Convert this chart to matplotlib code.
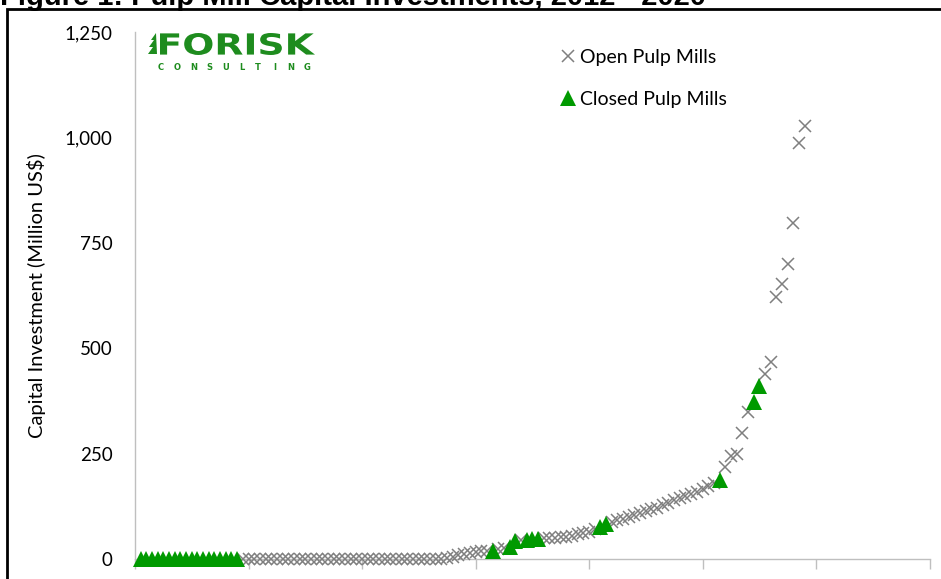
import numpy as np
import matplotlib
matplotlib.use("Agg")
import matplotlib.pyplot as plt
from matplotlib.patches import Rectangle, PathPatch, Polygon
from matplotlib.textpath import TextPath
from matplotlib.font_manager import FontProperties
from matplotlib.transforms import Affine2D
from matplotlib.ticker import FuncFormatter

# capital investment per mill, sorted low -> high (Million US$)
capex = [0, 0, 0, 0, 0, 0, 0, 0, 0, 0, 0, 0, 0, 0, 0, 0, 0, 0,
         0, 0, 0, 0, 0, 0, 0, 0, 0, 0, 0, 0, 0, 0, 0, 0, 0, 0,
         0, 0, 0, 0, 0, 0, 0, 0, 0, 0, 0, 0, 0, 0, 0, 0, 0, 0,
         2, 5, 9, 12, 15, 17, 18, 19, 20, 24, 26, 28, 42, 44, 46, 47,
         48, 49, 50, 50, 51, 52, 55, 59, 62, 65, 70, 76, 84, 88, 92, 96,
         100, 104, 108, 113, 118, 122, 128, 134, 139, 144, 150, 155, 160, 165, 172, 180,
         188, 219, 244, 250, 298, 348, 373, 411, 438, 468, 621, 652, 700, 798, 987, 1028]
# rank positions of the closed mills, all others are open
closed_rank = [1, 2, 3, 4, 5, 6, 7, 8, 9, 10, 11, 12, 13, 14, 15, 16, 17, 18,
               63, 66, 67, 69, 70, 71, 82, 83, 103, 109, 110]

capex = np.array(capex, dtype=float)
rank = np.arange(1, len(capex) + 1)
is_closed = np.isin(rank, closed_rank)

legend_labels = ["Open Pulp Mills", "Closed Pulp Mills"]
title = "Figure 1: Pulp Mill Capital Investments, 2012 - 2020"
ylab = "Capital Investment (Million US$)"

W, H = 941, 579
fig = plt.figure(figsize=(W / 100, H / 100), dpi=100)
plt.rcParams['font.family'] = ['Lato', 'DejaVu Sans']

def px(x, y):
    return x / W, 1 - y / H

l, t = px(135, 32)
r, b = px(929.5, 559)
ax = fig.add_axes([l, b, r - l, t - b])

ax.plot(rank[~is_closed], capex[~is_closed], ls="none", marker="x", ms=8.3,
        mew=1.1, color="#7f7f7f", clip_on=False, zorder=3, label=legend_labels[0])
ax.plot(rank[is_closed], capex[is_closed], ls="none", marker="^", ms=11,
        mew=0, color="#009a00", clip_on=False, zorder=4, label=legend_labels[1])

ax.set_xlim(0, 140)
ax.set_ylim(0, 1250)
ax.set_xticks(np.arange(0, 141, 20))
ax.set_xticklabels([])
ax.set_yticks(np.arange(0, 1251, 250))
ax.yaxis.set_major_formatter(FuncFormatter(lambda v, p: f"{int(v):,}"))
ax.tick_params(axis="y", length=0, pad=16, labelsize=13.5, colors="black")
ax.tick_params(axis="x", length=7, width=1, color="#bfbfbf", direction="out")
for s in ["top", "right"]:
    ax.spines[s].set_visible(False)
for s in ["left", "bottom"]:
    ax.spines[s].set_color("#bfbfbf")
    ax.spines[s].set_linewidth(1)
ax.set_ylabel(ylab, fontsize=14.5)
ax.yaxis.set_label_coords(-0.125 + 10 / 794.5, 0.5)

leg = ax.legend(loc="upper left", bbox_to_anchor=px(562, 49), bbox_transform=fig.transFigure,
                frameon=False, fontsize=14, handlelength=0.6, handletextpad=0.3,
                labelspacing=1.3, borderpad=0, borderaxespad=0)

# chart border and cut-off title
fig.patches.append(Rectangle(px(7, 600), 2, (600 - 9) / H, transform=fig.transFigure,
                             fill=False, ec="black", lw=2))
fig.text(*px(0, 5), title, fontsize=21, fontweight="bold",
         family="Liberation Sans", va="baseline", ha="left")

# FORISK logo
green = "#1e8c1e"
tp = TextPath((0, 0), "FORISK", size=1, prop=FontProperties(family="DejaVu Sans", weight="bold"))
ext = tp.get_extents()
x0, y0 = px(160, 55)
x1, y1 = px(315, 33)
tr = Affine2D().translate(-ext.x0, -ext.y0).scale((x1 - x0) / ext.width, (y1 - y0) / ext.height).translate(x0, y0)
fig.patches.append(PathPatch(tr.transform_path(tp), transform=fig.transFigure, fc=green, ec="none"))
# small tree mark left of the F
tree = [px(156, 33), px(151, 40), px(154, 40), px(149, 47), px(153, 47), px(148, 54), px(157, 54)]
fig.patches.append(Polygon(tree, closed=True, transform=fig.transFigure, fc=green, ec="none"))
for i, ch in enumerate("CONSULTING"):
    fig.text(*px(161 + i * 16.2, 67), ch, fontsize=6, fontweight="bold", color=green,
             ha="center", va="center", family="DejaVu Sans")

fig.savefig("out.png", dpi=100)
